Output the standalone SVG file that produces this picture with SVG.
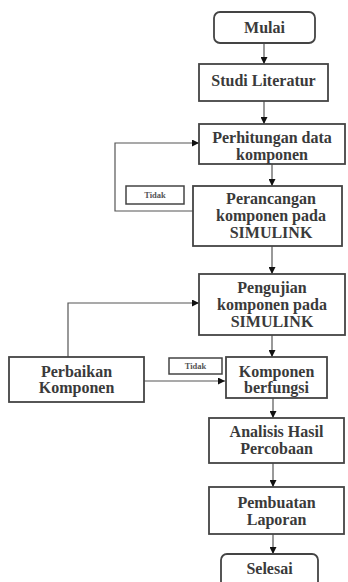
<svg xmlns="http://www.w3.org/2000/svg" width="348" height="582" viewBox="0 0 348 582">
<defs>
<marker id="ah" viewBox="0 0 10 10" refX="10" refY="5" markerWidth="7" markerHeight="7" orient="auto" markerUnits="userSpaceOnUse">
<path d="M0,0 L10,5 L0,10 z" fill="#111"/>
</marker>
<style>
.box{fill:#fff;stroke:#444;stroke-width:1.8}
.lbl{fill:#fff;stroke:#444;stroke-width:1.5}
.t{font-family:"Liberation Serif","DejaVu Serif",serif;font-weight:bold;font-size:16px;fill:#3a3a3a;text-anchor:middle}
.s{font-family:"Liberation Serif","DejaVu Serif",serif;font-weight:bold;font-size:8.5px;fill:#555;text-anchor:middle}
.c{fill:none;stroke:#555;stroke-width:1.2}
</style>
</defs>
<rect width="348" height="582" fill="#fff"/>
<g id="connectors">
<line class="c" x1="264" y1="43" x2="264" y2="64" marker-end="url(#ah)"/>
<line class="c" x1="264" y1="101" x2="264" y2="124" marker-end="url(#ah)"/>
<line class="c" x1="272" y1="164" x2="272" y2="186" marker-end="url(#ah)"/>
<polyline class="c" points="193,211 115,211 115,143 199,143" marker-end="url(#ah)"/>
<line class="c" x1="272" y1="246" x2="272" y2="274" marker-end="url(#ah)"/>
<line class="c" x1="272" y1="335" x2="272" y2="357" marker-end="url(#ah)"/>
<polyline class="c" points="68,357 68,303 199,303" marker-end="url(#ah)"/>
<line class="c" x1="144" y1="381" x2="225" y2="381" marker-end="url(#ah)"/>
<line class="c" x1="273" y1="398" x2="273" y2="418" marker-end="url(#ah)"/>
<line class="c" x1="273" y1="463" x2="273" y2="487" marker-end="url(#ah)"/>
<line class="c" x1="273" y1="534" x2="273" y2="554" marker-end="url(#ah)"/>
</g>
<g id="mulai">
<rect class="box" x="214" y="12" width="101" height="31" rx="6"/>
<text class="t" x="264.5" y="32.5">Mulai</text>
</g>
<g id="studi">
<rect class="box" x="199" y="64" width="129" height="37"/>
<text class="t" x="263.5" y="85.5">Studi Literatur</text>
</g>
<g id="perhitungan">
<rect class="box" x="199" y="124" width="146" height="40"/>
<text class="t" x="272" y="142.5">Perhitungan data</text>
<text class="t" x="272" y="159.5">komponen</text>
</g>
<g id="tidak1">
<rect class="lbl" x="126" y="186" width="58" height="18"/>
<text class="s" x="155" y="198">Tidak</text>
</g>
<g id="perancangan">
<rect class="box" x="193" y="186" width="149" height="60"/>
<text class="t" x="271" y="203.5">Perancangan</text>
<text class="t" x="271" y="220.5">komponen pada</text>
<text class="t" x="271" y="237.5">SIMULINK</text>
</g>
<g id="pengujian">
<rect class="box" x="199" y="274" width="146" height="61"/>
<text class="t" x="272" y="292.5">Pengujian</text>
<text class="t" x="272" y="309.5">komponen pada</text>
<text class="t" x="272" y="326.5">SIMULINK</text>
</g>
<g id="perbaikan">
<rect class="box" x="9" y="357" width="135" height="45"/>
<text class="t" x="76.5" y="376.5">Perbaikan</text>
<text class="t" x="76.5" y="392.5">Komponen</text>
</g>
<g id="tidak2">
<rect class="lbl" x="169" y="358" width="53" height="16"/>
<text class="s" x="195.5" y="369">Tidak</text>
</g>
<g id="berfungsi">
<rect class="box" x="226" y="357" width="101" height="41"/>
<text class="t" x="276.5" y="376.5">Komponen</text>
<text class="t" x="276.5" y="392.5">berfungsi</text>
</g>
<g id="analisis">
<rect class="box" x="209" y="418" width="135" height="45"/>
<text class="t" x="276.5" y="436.5">Analisis Hasil</text>
<text class="t" x="276.5" y="453.5">Percobaan</text>
</g>
<g id="pembuatan">
<rect class="box" x="209" y="487" width="135" height="47"/>
<text class="t" x="276.5" y="507.5">Pembuatan</text>
<text class="t" x="276.5" y="524.5">Laporan</text>
</g>
<g id="selesai">
<rect class="box" x="221" y="554" width="97" height="36" rx="6"/>
<text class="t" x="269.5" y="573.5">Selesai</text>
</g>
</svg>
